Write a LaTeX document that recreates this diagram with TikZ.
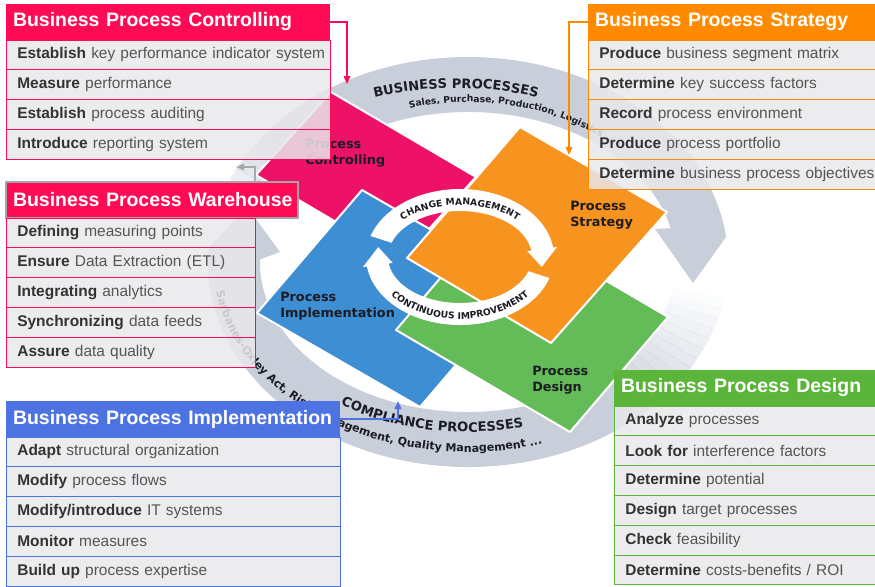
\documentclass[tikz,border=0pt]{standalone}
\usepackage{fontspec}
\setmainfont{Liberation Sans}
\newfontfamily\dvfont{DejaVu Sans}
\usetikzlibrary{arrows.meta, positioning, calc, decorations.text}

\definecolor{ctrlpink}{HTML}{FF0A54}
\definecolor{stratorange}{HTML}{FF8A00}
\definecolor{implblue}{HTML}{4D72E2}
\definecolor{desgreen}{HTML}{5BB53A}
\definecolor{headgray}{HTML}{A5A5A5}
\definecolor{rowgray}{HTML}{E9E7EB}
\definecolor{verbgray}{HTML}{333333}
\definecolor{restgray}{HTML}{555555}
\definecolor{ringgray}{HTML}{C8CEDA}
\definecolor{shapepink}{HTML}{EE1168}
\definecolor{shapeorange}{HTML}{F7931F}
\definecolor{shapeblue}{HTML}{3E8ED3}
\definecolor{shapegreen}{HTML}{64BC59}
\definecolor{linkgray}{HTML}{A8A8A8}
\definecolor{inkdark}{HTML}{1C1C24}

\newcommand{\vb}[1]{{\bfseries\color{verbgray}#1}}
\newcommand{\headfont}{\fontsize{14.6}{16}\selectfont\bfseries}
\newcommand{\itemfont}{\fontsize{11.6}{13}\selectfont}
\newcommand{\labfont}{\dvfont\bfseries\fontsize{9.6}{12}\selectfont}
\newcommand{\ringbig}{\dvfont\bfseries\fontsize{9.8}{10}\selectfont}
\newcommand{\ringmid}{\dvfont\bfseries\fontsize{8.3}{9}\selectfont}
\newcommand{\ringsmall}{\dvfont\bfseries\fontsize{6.9}{8}\selectfont}

\begin{document}
\begin{tikzpicture}[x=0.75pt, y=-0.75pt,
  boxhead/.style={anchor=north west, fill=#1, text=white, font=\headfont, minimum height=27pt, inner xsep=5.25pt, inner ysep=0pt, outer sep=0pt, align=left},
  rowbox/.style={anchor=north west, fill=rowgray, fill opacity=.85, text opacity=1, draw=#1, line width=.75pt, font=\itemfont, text=restgray, minimum height=22.35pt, inner xsep=8.5pt, inner ysep=0pt, outer sep=0pt, align=left},
  link/.style={draw=#1, line width=1.1pt, -{Triangle[length=6pt,width=5pt]}},
  tile/.style={fill=#1, draw=white, line width=1.5pt, line join=round},
  tilelabel/.style={anchor=north west, font=\labfont, text=inkdark, align=left, inner sep=0pt},
  ringtext/.style={decorate, decoration={text along path, text align=center, text color=inkdark, text={#1}}}
]
\useasboundingbox (0,0) rectangle (875,586);

% outer ring: business processes on top, compliance processes below
\coordinate (rc) at (468,262);
\foreach \a [evaluate=\a as \o using (\a-7)/46] in {10,13,...,49}
  \fill[ringgray, opacity=\o] ($(rc)+(\a:260 and 205)$) arc[start angle=\a, end angle=\a+3.2, x radius=260, y radius=205]
    -- ($(rc)+({\a+3.2}:208 and 150)$) arc[start angle=\a+3.2, end angle=\a, x radius=208, y radius=150] -- cycle;
\fill[ringgray] ($(rc)+(52:260 and 205)$) arc[start angle=52, end angle=184, x radius=260, y radius=205]
  -- (247,207) -- (280,252) -- ($(rc)+(181:208 and 150)$) arc[start angle=181, end angle=52, x radius=208, y radius=150] -- cycle;
\foreach \a [evaluate=\a as \o using (\a-194)/28] in {198,201,...,219}
  \fill[ringgray, opacity=\o] ($(rc)+(\a:260 and 205)$) arc[start angle=\a, end angle=\a+3.2, x radius=260, y radius=205]
    -- ($(rc)+({\a+3.2}:208 and 150)$) arc[start angle=\a+3.2, end angle=\a, x radius=208, y radius=150] -- cycle;
\fill[ringgray] ($(rc)+(222:260 and 205)$) arc[start angle=222, end angle=353, x radius=260, y radius=205]
  -- (693,283) -- (655,229) -- ($(rc)+(347:208 and 150)$) arc[start angle=347, end angle=222, x radius=208, y radius=150] -- cycle;

\path[ringtext={|\ringbig|BUSINESS PROCESSES}] ($(456,262)+(-125:248 and 174)$) arc[start angle=-125, end angle=-55, x radius=248, y radius=174];
\path[ringtext={|\ringsmall|Sales, Purchase, Production, Logistics}, decoration={text align=left}] ($(rc)+(-106:212 and 160)$) arc[start angle=-106, end angle=0, x radius=212, y radius=160];
\path[ringtext={|\ringbig|COMPLIANCE PROCESSES}] ($(rc)+(135:235 and 170)$) arc[start angle=135, end angle=65, x radius=235, y radius=170];
\path[ringtext={|\ringmid|Sarbanes-Oxley Act, Risk Management, Quality Management ...}, decoration={text align=left}] ($(rc)+(171:255 and 190)$) arc[start angle=171, end angle=50, x radius=255, y radius=190];

% the four process tiles
\draw[tile=shapepink] (331,92) -- (476,177) -- (401,260) -- (256,175) -- cycle;
\draw[tile=shapeblue] (362,190) -- (525,284) -- (420,407) -- (257,313) -- cycle;
\draw[tile=shapegreen] (494,215) -- (668,317) -- (570,432) -- (396,330) -- cycle;
\draw[tile=shapeorange] (520,127) -- (667,212) -- (551,343) -- (407,258) -- cycle;

% change management / continuous improvement cycle
\coordinate (cc) at (460,257);
\fill[white] ($(cc)+(198:94 and 68)$) arc[start angle=198, end angle=352, x radius=94, y radius=68]
  -- ($(cc)+(352:98 and 72)$) -- ($(cc)+(10:83 and 57)$) -- ($(cc)+(352:68 and 42)$)
  -- ($(cc)+(352:72 and 46)$) arc[start angle=352, end angle=198, x radius=72, y radius=46] -- cycle;
\fill[white] ($(cc)+(18:94 and 68)$) arc[start angle=18, end angle=172, x radius=94, y radius=68]
  -- ($(cc)+(172:98 and 72)$) -- ($(cc)+(190:83 and 57)$) -- ($(cc)+(172:68 and 42)$)
  -- ($(cc)+(172:72 and 46)$) arc[start angle=172, end angle=18, x radius=72, y radius=46] -- cycle;
\path[ringtext={|\ringsmall|CHANGE MANAGEMENT}] ($(cc)+(-140:81 and 52)$) arc[start angle=-140, end angle=-40, x radius=81, y radius=52];
\path[ringtext={|\ringsmall|CONTINUOUS IMPROVEMENT}] ($(cc)+(150:88 and 62)$) arc[start angle=150, end angle=30, x radius=88, y radius=62];

\node[tilelabel] (lctrl) at (305,139) {Process\\Controlling};
\node[tilelabel] (lstrat) at (570,201) {Process\\Strategy};
\node[tilelabel] (limpl) at (280,292) {Process\\Implementation};
\node[tilelabel] (ldes) at (532,366) {Process\\Design};

% task boxes
\node[boxhead=ctrlpink, text width=232.5pt] (bpc) at (6,4) {\mbox{Business Process Controlling}};
\foreach \t [count=\i] in {{\vb{Establish} key performance indicator system},{\vb{Measure} performance},{\vb{Establish} process auditing},{\vb{Introduce} reporting system}}
  \node[rowbox=ctrlpink, text width=226pt] (bpc-\i) at ($(bpc.south west)+(0,{29.8*(\i-1)})$) {\mbox{\t}};

\node[boxhead=stratorange, text width=208.5pt] (bps) at (588,4) {\mbox{Business Process Strategy}};
\foreach \t [count=\i] in {{\vb{Produce} business segment matrix},{\vb{Determine} key success factors},{\vb{Record} process environment},{\vb{Produce} process portfolio},{\vb{Determine} business process objectives}}
  \node[rowbox=stratorange, text width=202pt] (bps-\i) at ($(bps.south west)+(0,{29.8*(\i-1)})$) {\mbox{\t}};

\node[boxhead=ctrlpink, text width=208.5pt, draw=headgray, line width=1.5pt] (bpw) at (6,182) {\mbox{Business Process Warehouse}};
\foreach \t [count=\i] in {{\vb{Defining} measuring points},{\vb{Ensure} Data Extraction (ETL)},{\vb{Integrating} analytics},{\vb{Synchronizing} data feeds},{\vb{Assure} data quality}}
  \node[rowbox=ctrlpink, text width=169.75pt] (bpw-\i) at ($(bpw.south west)+(0,{29.8*(\i-1)})$) {\mbox{\t}};

\node[boxhead=implblue, text width=240pt] (bpi) at (6,401) {\mbox{Business Process Implementation}};
\foreach \t [count=\i] in {{\vb{Adapt} structural organization},{\vb{Modify} process flows},{\vb{Modify/introduce} IT systems},{\vb{Monitor} measures},{\vb{Build up} process expertise}}
  \node[rowbox=implblue, text width=233.5pt] (bpi-\i) at ($(bpi.south west)+(0,{29.8*(\i-1)})$) {\mbox{\t}};

\node[boxhead=desgreen, text width=187.5pt] (bpd) at (614,370) {\mbox{Business Process Design}};
\foreach \t [count=\i] in {{\vb{Analyze} processes},{\vb{Look for} interference factors},{\vb{Determine} potential},{\vb{Design} target processes},{\vb{Check} feasibility},{\vb{Determine} costs-benefits / ROI}}
  \node[rowbox=desgreen, text width=181pt] (bpd-\i) at ($(bpd.south west)+(0,{29.8*(\i-1)})$) {\mbox{\t}};

% connectors into the diagram
\coordinate (ctrltip) at (347,84);
\coordinate (strattip) at (569,155);
\coordinate (whtip) at (236,167);
\coordinate (impltip) at (398,401);
\draw[link=ctrlpink] (bpc.east) -| (ctrltip);
\draw[link=stratorange] (bps.west) -| (strattip);
\draw[link=linkgray] (bpw-1.east |- bpw.north) |- (whtip);
\draw[link=implblue] (bpi.east) -| (impltip);
\end{tikzpicture}
\end{document}
